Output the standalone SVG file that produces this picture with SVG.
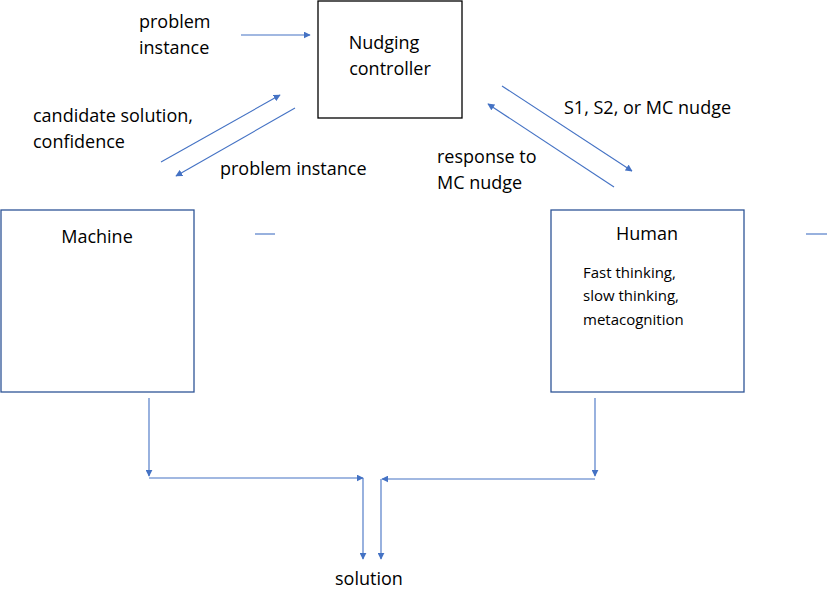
<svg xmlns="http://www.w3.org/2000/svg" width="830" height="606" viewBox="0 0 830 606">
<style>
text{font-family:"Open Sans","Liberation Sans",sans-serif;font-size:18px;fill:#000}
.s{font-size:15px}
.b{fill:#fff;stroke:#000;stroke-width:1.3}
.m{fill:#fff;stroke:#2f5597;stroke-width:1.3}
.c{stroke:#4472c4;stroke-width:1.1;fill:none}
.a{marker-end:url(#ah)}
</style>
<defs><marker id="ah" viewBox="0 0 10 10" refX="9" refY="5" markerWidth="7" markerHeight="7" orient="auto" markerUnits="userSpaceOnUse"><path d="M0,0L10,5L0,10z" fill="#4472c4"/></marker></defs>
<rect width="830" height="606" fill="#fff"/>
<g id="controller"><rect class="b" x="318" y="1" width="144" height="117"/><text x="384" y="49" text-anchor="middle">Nudging</text><text x="390" y="75" text-anchor="middle">controller</text></g>
<g id="machine"><rect class="m" x="1" y="210" width="193" height="182"/><text x="97" y="243" text-anchor="middle">Machine</text></g>
<g id="human"><rect class="m" x="551" y="210" width="193" height="182"/><text x="647" y="240" text-anchor="middle">Human</text><text class="s" x="583" y="278">Fast thinking,</text><text class="s" x="583" y="301">slow thinking,</text><text class="s" x="583" y="325">metacognition</text></g>
<g id="labels">
<text x="139" y="28">problem</text><text x="139" y="54">instance</text>
<text x="33" y="122">candidate solution,</text><text x="33" y="148">confidence</text>
<text x="220" y="175">problem instance</text>
<text x="564" y="114">S1, S2, or MC nudge</text>
<text x="437" y="163">response to</text><text x="437" y="189">MC nudge</text>
<text x="335" y="585">solution</text>
</g>
<g id="connectors">
<line class="c a" x1="241" y1="35" x2="310" y2="35"/>
<line class="c a" x1="161" y1="162" x2="280" y2="95"/>
<line class="c a" x1="295" y1="108" x2="176" y2="176"/>
<line class="c a" x1="502" y1="86" x2="632" y2="171"/>
<line class="c a" x1="614" y1="187" x2="488" y2="104"/>
<line class="c" x1="255" y1="234" x2="275" y2="234"/>
<line class="c" x1="806" y1="234" x2="827" y2="234"/>
<line class="c a" x1="149" y1="398" x2="149" y2="476"/>
<line class="c a" x1="149" y1="478" x2="363" y2="478"/>
<line class="c a" x1="363" y1="478" x2="363" y2="559"/>
<line class="c a" x1="595" y1="398" x2="595" y2="476"/>
<line class="c a" x1="595" y1="479" x2="382" y2="479"/>
<line class="c a" x1="381" y1="479" x2="381" y2="559"/>
</g>
</svg>
